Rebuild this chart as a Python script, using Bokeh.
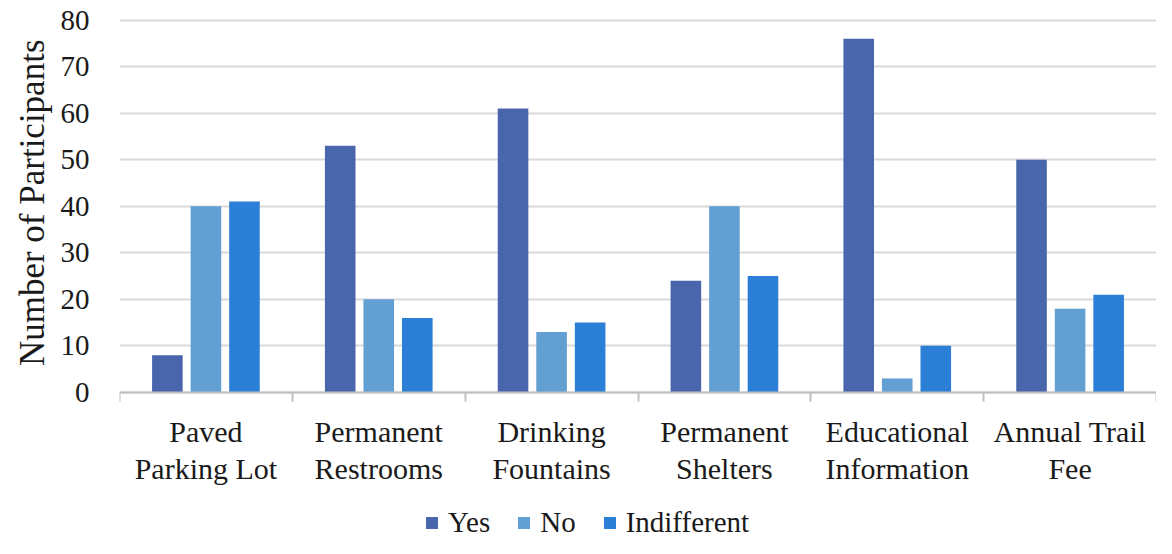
from bokeh.plotting import figure
from bokeh.models import Range1d, LinearAxis, FixedTicker, ColumnDataSource, Title
from bokeh.transform import dodge
from bokeh.embed import file_html
from bokeh.resources import INLINE

categories = ["Paved\nParking Lot", "Permanent\nRestrooms", "Drinking\nFountains",
              "Permanent\nShelters", "Educational\nInformation", "Annual Trail\nFee"]
yes = [8, 53, 61, 24, 76, 50]
no = [40, 20, 13, 40, 3, 18]
indifferent = [41, 16, 15, 25, 10, 21]
y_ticks = [0, 10, 20, 30, 40, 50, 60, 70, 80]

series_names = ["Yes", "No", "Indifferent"]
colors = ["#4966ad", "#629fd2", "#2b7fd6"]
offsets = [-0.223, 0.0, 0.223]

FONT = "Liberation Serif"
TXT = "#1a1a1a"

centers = [i + 0.5 for i in range(len(categories))]
bounds = list(range(len(categories) + 1))

src = ColumnDataSource(dict(pos=centers, cat=categories, Yes=yes, No=no, Indifferent=indifferent))

# frame spans the full height; value 0 sits at ~392px, 81 at the top (15px)
p = figure(width=1156, height=538, output_backend="svg", toolbar_location=None,
           x_range=Range1d(0, len(categories)),
           y_range=Range1d(-31.4, 81), x_axis_location=None, y_axis_location=None,
           min_border_left=119, min_border_right=0, min_border_top=15, min_border_bottom=0)
p.outline_line_color = None
p.background_fill_color = "white"
p.border_fill_color = "white"

for name, col, off in zip(series_names, colors, offsets):
    p.vbar(x=dodge("pos", off), top=name, bottom=0, width=0.177, source=src,
           fill_color=col, line_color=None, legend_label=name)

# y axis
yax = LinearAxis(ticker=FixedTicker(ticks=y_ticks), bounds=(0, 80))
yax.axis_line_color = None
yax.major_tick_line_color = None
yax.minor_tick_line_color = None
yax.major_label_standoff = 24
yax.major_label_text_font = FONT
yax.major_label_text_font_size = "29px"
yax.major_label_text_color = TXT
p.add_layout(yax, "left")

# y axis title, placed along the 0-80 part of the axis
ytitle = Title(text="Number of Participants", align="right", offset=24,
               vertical_align="middle", text_font=FONT, text_font_size="35px",
               text_font_style="normal", text_color=TXT)
p.add_layout(ytitle, "left")

# x axis at value 0: boundary ticks (minor) and category labels at centers
xax = LinearAxis(ticker=FixedTicker(ticks=centers, minor_ticks=bounds), fixed_location=0)
xax.major_label_overrides = {c: lab for c, lab in zip(centers, categories)}
xax.axis_line_color = "#bfbfbf"
xax.axis_line_width = 2
xax.major_tick_line_color = None
xax.minor_tick_line_color = "#bfbfbf"
xax.minor_tick_line_width = 2
xax.minor_tick_out = 9
xax.minor_tick_in = 0
xax.major_label_standoff = 14
xax.major_label_text_font = FONT
xax.major_label_text_font_size = "30px"
xax.major_label_text_line_height = 1.1
xax.major_label_text_color = TXT
p.add_layout(xax, "below")

p.xgrid.grid_line_color = None
p.ygrid.ticker = FixedTicker(ticks=y_ticks)
p.ygrid.grid_line_color = "#d9d9d9"
p.ygrid.grid_line_width = 2

leg = p.legend[0]
leg.orientation = "horizontal"
leg.location = (305, -1)
leg.border_line_color = None
leg.background_fill_alpha = 0
leg.padding = 0
leg.margin = 0
leg.spacing = 26
leg.glyph_width = 15
leg.glyph_height = 15
leg.label_standoff = 9
leg.label_text_font = FONT
leg.label_text_font_size = "29px"
leg.label_text_color = TXT
leg.label_text_baseline = "middle"

open("out.html", "w").write(file_html(p, INLINE))
